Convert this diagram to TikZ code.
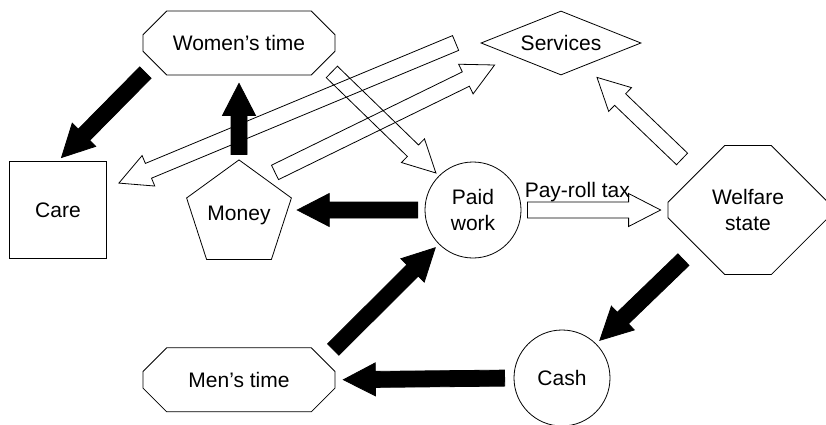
\documentclass[tikz,border=0pt]{standalone}
\usepackage{fontspec}
\setmainfont{Liberation Sans}
\usetikzlibrary{calc,positioning,shapes.geometric,shapes.misc}

\newcommand\lblfont{\fontsize{21}{26}\selectfont}

\tikzset{
  gapa/.store in=\gapa, gapb/.store in=\gapb,
  gapa=0pt, gapb=0pt,
  % wide arrow drawn as one polygon from start to target
  blockarrow/.style={line width=0.8pt, to path={
    let \p1=(\tikztostart), \p2=(\tikztotarget),
        \n1={atan2(\y2-\y1,\x2-\x1)},
        \p3=($(\p1)+(\n1:\gapa)$), \p4=($(\p2)+({\n1+180}:\gapb)$),
        \p5=($(\p4)+({\n1+180}:32pt)$) in
    ($(\p3)+({\n1+90}:8pt)$) -- ($(\p5)+({\n1+90}:8pt)$) -- ($(\p5)+({\n1+90}:16.5pt)$)
    -- (\p4) -- ($(\p5)+({\n1-90}:16.5pt)$) -- ($(\p5)+({\n1-90}:8pt)$)
    -- ($(\p3)+({\n1-90}:8pt)$) -- cycle}},
  fullarrow/.style={blockarrow, draw, fill=black},
  openarrow/.style={blockarrow, draw},
  tbox/.style={draw, chamfered rectangle, chamfered rectangle xsep=16pt,
    chamfered rectangle ysep=16pt, minimum width=192pt, minimum height=64pt, inner sep=0pt}
}

\begin{document}
\begin{tikzpicture}[x=1pt, y=-1pt, line width=0.8pt, font=\lblfont]
    \useasboundingbox (0,0) rectangle (826,425);

    \node (wt) [tbox] at (239,43) {Women’s time};
    \node (services) [draw, diamond, aspect=2.5, minimum width=160pt, minimum height=64pt, inner sep=0pt] at (561,43) {Services};
    \node (care) [draw, rectangle, minimum size=97pt] at (58,210) {Care};
    \node (money) [draw, regular polygon, regular polygon sides=5, minimum size=106pt, inner sep=0pt] at (239,215) {Money};
    \node (pw) [draw, circle, minimum size=96pt, inner sep=0pt, align=center] at (473,210) {Paid\\work};
    \node (ws) [draw, chamfered rectangle, chamfered rectangle xsep=40pt, chamfered rectangle ysep=40pt,
      minimum width=160pt, minimum height=129pt, inner sep=0pt, align=center] at (748,210) {Welfare\\state};
    \node (cash) [draw, circle, minimum size=96pt, inner sep=0pt] at (562,378) {Cash};
    \node (mt) [tbox, below=272pt of wt] {Men’s time};
    \node (tax) [anchor=base west, inner sep=0pt] at ($(pw.east)+(3,-13)$) {Pay-roll tax};

    \draw[openarrow, gapa=6pt, gapb=7pt] (pw.east) to (ws.west);
    \draw[openarrow, gapa=-20pt] (ws.west |- ws.north) to ($(services.south)+(36,2)$);
    \draw[openarrow, gapa=-5pt, gapb=4pt] (wt.east |- wt.south) to (pw.north west);
    \draw[openarrow] ($(money.north)+(36,13)$) to ($(services.west)+(14,22)$);
    \draw[openarrow] ($(services.west)+(-25,0)$) to ($(care.north east)+(12,22)$);

    \draw[fullarrow, gapa=-4pt, gapb=5pt] (wt.west |- wt.south) to (care.north);
    \draw[fullarrow, gapa=5pt, gapb=8pt] (money.north) to (wt.south);
    \draw[fullarrow, gapa=7pt, gapb=11pt] (pw.west) to (money.east |- pw.west);
    \draw[fullarrow, gapa=-3pt, gapb=5pt] (mt.east |- mt.north) to (pw.south west);
    \draw[fullarrow, gapa=-22pt, gapb=5pt] (ws.west |- ws.south) to (cash.north east);
    \draw[fullarrow, gapa=9pt, gapb=8pt] (cash.west) to (mt.east);
\end{tikzpicture}
\end{document}
